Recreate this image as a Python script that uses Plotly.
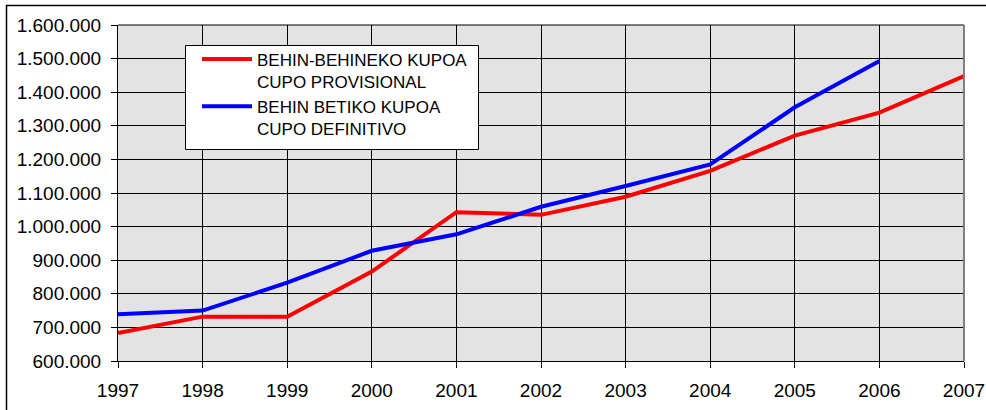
import plotly.graph_objects as go

years = [1997, 1998, 1999, 2000, 2001, 2002, 2003, 2004, 2005, 2006, 2007]
provisional = [683000, 732000, 732000, 866000, 1043000, 1035000, 1089000, 1166000, 1271000, 1339000, 1448000]
years_def = [1997, 1998, 1999, 2000, 2001, 2002, 2003, 2004, 2005, 2006]
definitive = [739000, 750000, 833000, 928000, 977000, 1059000, 1121000, 1185000, 1355000, 1493000]

name_prov = "BEHIN-BEHINEKO KUPOA<br>CUPO PROVISIONAL"
name_def = "BEHIN BETIKO KUPOA<br>CUPO DEFINITIVO"

fig = go.Figure()
fig.add_trace(go.Scatter(x=years, y=provisional, mode="lines", name=name_prov,
                         line=dict(color="#FF0000", width=4)))
fig.add_trace(go.Scatter(x=years_def, y=definitive, mode="lines", name=name_def,
                         line=dict(color="#0000FF", width=4)))

W, H = 986, 410
L, R, T, B = 118, 22, 25, 49
pw, ph = W - L - R, H - T - B

def px(x):
    return (x - L) / pw

def py(y):
    return (H - B - y) / ph

shapes = [
    # outer frame
    dict(type="rect", xref="paper", yref="paper", x0=px(6.5), x1=px(1000), y0=py(425), y1=py(5.5),
         line=dict(color="#000000", width=1.5), layer="below"),
    # plot top border
    dict(type="line", xref="paper", yref="paper", x0=0, x1=1, y0=1, y1=1,
         line=dict(color="#000000", width=1)),
    # plot right border
    dict(type="line", xref="paper", yref="paper", x0=1, x1=1, y0=0, y1=1,
         line=dict(color="#808080", width=2)),
    # legend box
    dict(type="rect", xref="paper", yref="paper", x0=px(185.5), x1=px(478.5), y0=py(149.5), y1=py(45.5),
         fillcolor="#FFFFFF", line=dict(color="#000000", width=1), layer="above"),
]

fig.update_layout(
    width=W, height=H,
    margin=dict(l=L, r=R, t=T, b=B, pad=0, autoexpand=False),
    paper_bgcolor="#FFFFFF",
    plot_bgcolor="#E3E3E3",
    separators=",.",
    font=dict(family="Liberation Sans, Arial, sans-serif", size=19, color="#000000"),
    showlegend=True,
    hovermode=False,
    legend=dict(x=px(197), y=py(41.5), xanchor="left", yanchor="top",
                bgcolor="rgba(0,0,0,0)", borderwidth=0,
                font=dict(size=17), tracegroupgap=6, itemwidth=50, valign="top"),
    shapes=shapes,
    xaxis=dict(range=[1997, 2007], dtick=1, tick0=1997, showgrid=True, gridcolor="#000000",
               gridwidth=1, showline=True, linecolor="#000000", linewidth=1,
               ticks="outside", ticklen=6, tickcolor="#000000", zeroline=False,
               ticklabelstandoff=6, automargin=False),
    yaxis=dict(range=[600000, 1600000], dtick=100000, tickformat=",d", showgrid=True,
               gridcolor="#000000", gridwidth=1, showline=True, linecolor="#000000",
               linewidth=1, ticks="outside", ticklen=6, tickcolor="#000000",
               zeroline=False, ticklabelstandoff=6, automargin=False),
)

fig.write_html("out.html", config={"displayModeBar": False},
               post_script="document.body.style.margin='0';")
